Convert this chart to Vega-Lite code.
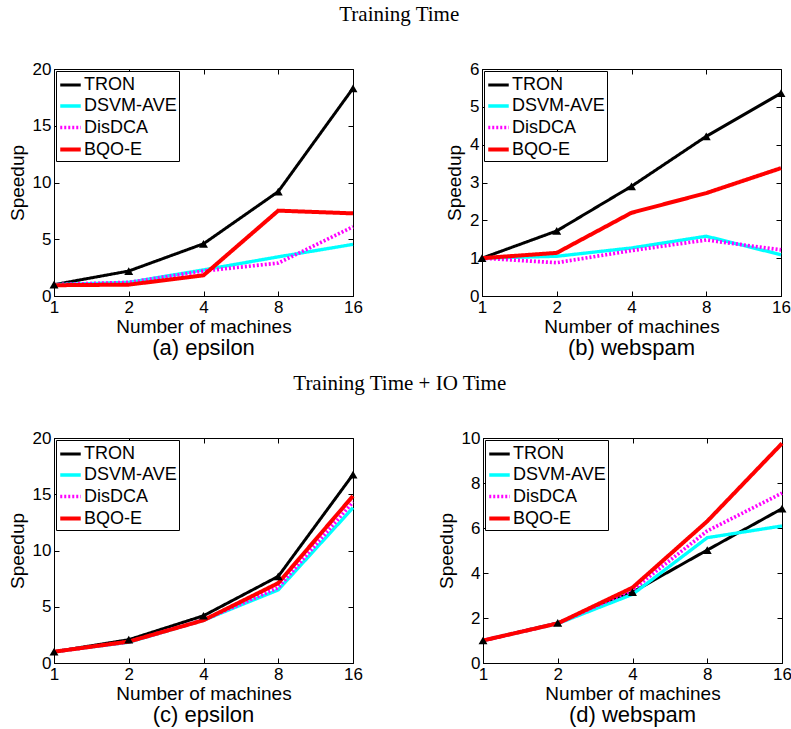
{
  "$schema": "https://vega.github.io/schema/vega-lite/v6.json",
  "padding": {"left": 7, "top": 3, "right": 2, "bottom": 2},
  "background": "white",
  "config": {
    "view": {"stroke": "black", "strokeWidth": 1},
    "axis": {"grid": false, "domainColor": "black", "tickColor": "black", "labelColor": "black", "titleColor": "black", "labelFont": "Liberation Sans", "labelFontSize": 17, "titleFont": "Liberation Sans", "titleFontSize": 19, "titleFontWeight": "normal", "tickSize": -5, "labelPadding": 8, "titlePadding": 2, "labelFlush": false, "labelOverlap": false},
    "axisLeft": {"titlePadding": 5},
    "axisRight": {"titlePadding": 5},
    "legend": {"orient": "top-left", "offset": 2, "strokeColor": "black", "fillColor": "white", "padding": 2, "symbolType": "stroke", "symbolSize": 420, "labelFont": "Liberation Sans", "labelFontSize": 18, "labelColor": "black", "rowPadding": -3, "labelOffset": 1, "labelLimit": 300, "cornerRadius": 0, "title": null},
    "title": {"font": "Liberation Serif", "fontSize": 21, "fontWeight": "normal", "color": "black"},
    "line": {"strokeCap": "butt", "strokeJoin": "miter"}
  },
  "data": {"values": [
    {"panel": "a", "method": "TRON", "machines": 1, "speedup": 1.0},
    {"panel": "a", "method": "TRON", "machines": 2, "speedup": 2.2},
    {"panel": "a", "method": "TRON", "machines": 4, "speedup": 4.6},
    {"panel": "a", "method": "TRON", "machines": 8, "speedup": 9.2},
    {"panel": "a", "method": "TRON", "machines": 16, "speedup": 18.3},
    {"panel": "a", "method": "DSVM-AVE", "machines": 1, "speedup": 1.0},
    {"panel": "a", "method": "DSVM-AVE", "machines": 2, "speedup": 1.2},
    {"panel": "a", "method": "DSVM-AVE", "machines": 4, "speedup": 2.3},
    {"panel": "a", "method": "DSVM-AVE", "machines": 8, "speedup": 3.45},
    {"panel": "a", "method": "DSVM-AVE", "machines": 16, "speedup": 4.55},
    {"panel": "a", "method": "DisDCA", "machines": 1, "speedup": 1.0},
    {"panel": "a", "method": "DisDCA", "machines": 2, "speedup": 1.2},
    {"panel": "a", "method": "DisDCA", "machines": 4, "speedup": 2.2},
    {"panel": "a", "method": "DisDCA", "machines": 8, "speedup": 2.9},
    {"panel": "a", "method": "DisDCA", "machines": 16, "speedup": 6.1},
    {"panel": "a", "method": "BQO-E", "machines": 1, "speedup": 0.95},
    {"panel": "a", "method": "BQO-E", "machines": 2, "speedup": 1.0},
    {"panel": "a", "method": "BQO-E", "machines": 4, "speedup": 1.82},
    {"panel": "a", "method": "BQO-E", "machines": 8, "speedup": 7.52},
    {"panel": "a", "method": "BQO-E", "machines": 16, "speedup": 7.28},
    {"panel": "b", "method": "TRON", "machines": 1, "speedup": 1.0},
    {"panel": "b", "method": "TRON", "machines": 2, "speedup": 1.72},
    {"panel": "b", "method": "TRON", "machines": 4, "speedup": 2.9},
    {"panel": "b", "method": "TRON", "machines": 8, "speedup": 4.22},
    {"panel": "b", "method": "TRON", "machines": 16, "speedup": 5.36},
    {"panel": "b", "method": "DSVM-AVE", "machines": 1, "speedup": 1.0},
    {"panel": "b", "method": "DSVM-AVE", "machines": 2, "speedup": 1.05},
    {"panel": "b", "method": "DSVM-AVE", "machines": 4, "speedup": 1.27},
    {"panel": "b", "method": "DSVM-AVE", "machines": 8, "speedup": 1.58},
    {"panel": "b", "method": "DSVM-AVE", "machines": 16, "speedup": 1.09},
    {"panel": "b", "method": "DisDCA", "machines": 1, "speedup": 1.0},
    {"panel": "b", "method": "DisDCA", "machines": 2, "speedup": 0.88},
    {"panel": "b", "method": "DisDCA", "machines": 4, "speedup": 1.2},
    {"panel": "b", "method": "DisDCA", "machines": 8, "speedup": 1.48},
    {"panel": "b", "method": "DisDCA", "machines": 16, "speedup": 1.22},
    {"panel": "b", "method": "BQO-E", "machines": 1, "speedup": 1.0},
    {"panel": "b", "method": "BQO-E", "machines": 2, "speedup": 1.14},
    {"panel": "b", "method": "BQO-E", "machines": 4, "speedup": 2.2},
    {"panel": "b", "method": "BQO-E", "machines": 8, "speedup": 2.72},
    {"panel": "b", "method": "BQO-E", "machines": 16, "speedup": 3.38},
    {"panel": "c", "method": "TRON", "machines": 1, "speedup": 1.0},
    {"panel": "c", "method": "TRON", "machines": 2, "speedup": 2.07},
    {"panel": "c", "method": "TRON", "machines": 4, "speedup": 4.2},
    {"panel": "c", "method": "TRON", "machines": 8, "speedup": 7.7},
    {"panel": "c", "method": "TRON", "machines": 16, "speedup": 16.75},
    {"panel": "c", "method": "DSVM-AVE", "machines": 1, "speedup": 1.0},
    {"panel": "c", "method": "DSVM-AVE", "machines": 2, "speedup": 1.85},
    {"panel": "c", "method": "DSVM-AVE", "machines": 4, "speedup": 3.8},
    {"panel": "c", "method": "DSVM-AVE", "machines": 8, "speedup": 6.5},
    {"panel": "c", "method": "DSVM-AVE", "machines": 16, "speedup": 13.8},
    {"panel": "c", "method": "DisDCA", "machines": 1, "speedup": 1.0},
    {"panel": "c", "method": "DisDCA", "machines": 2, "speedup": 1.88},
    {"panel": "c", "method": "DisDCA", "machines": 4, "speedup": 3.82},
    {"panel": "c", "method": "DisDCA", "machines": 8, "speedup": 6.7},
    {"panel": "c", "method": "DisDCA", "machines": 16, "speedup": 14.3},
    {"panel": "c", "method": "BQO-E", "machines": 1, "speedup": 1.0},
    {"panel": "c", "method": "BQO-E", "machines": 2, "speedup": 1.9},
    {"panel": "c", "method": "BQO-E", "machines": 4, "speedup": 3.8},
    {"panel": "c", "method": "BQO-E", "machines": 8, "speedup": 7.1},
    {"panel": "c", "method": "BQO-E", "machines": 16, "speedup": 14.85},
    {"panel": "d", "method": "TRON", "machines": 1, "speedup": 1.0},
    {"panel": "d", "method": "TRON", "machines": 2, "speedup": 1.78},
    {"panel": "d", "method": "TRON", "machines": 4, "speedup": 3.15},
    {"panel": "d", "method": "TRON", "machines": 8, "speedup": 5.02},
    {"panel": "d", "method": "TRON", "machines": 16, "speedup": 6.86},
    {"panel": "d", "method": "DSVM-AVE", "machines": 1, "speedup": 1.0},
    {"panel": "d", "method": "DSVM-AVE", "machines": 2, "speedup": 1.75},
    {"panel": "d", "method": "DSVM-AVE", "machines": 4, "speedup": 3.05},
    {"panel": "d", "method": "DSVM-AVE", "machines": 8, "speedup": 5.57},
    {"panel": "d", "method": "DSVM-AVE", "machines": 16, "speedup": 6.09},
    {"panel": "d", "method": "DisDCA", "machines": 1, "speedup": 1.0},
    {"panel": "d", "method": "DisDCA", "machines": 2, "speedup": 1.76},
    {"panel": "d", "method": "DisDCA", "machines": 4, "speedup": 3.25},
    {"panel": "d", "method": "DisDCA", "machines": 8, "speedup": 5.87},
    {"panel": "d", "method": "DisDCA", "machines": 16, "speedup": 7.55},
    {"panel": "d", "method": "BQO-E", "machines": 1, "speedup": 1.0},
    {"panel": "d", "method": "BQO-E", "machines": 2, "speedup": 1.76},
    {"panel": "d", "method": "BQO-E", "machines": 4, "speedup": 3.35},
    {"panel": "d", "method": "BQO-E", "machines": 8, "speedup": 6.3},
    {"panel": "d", "method": "BQO-E", "machines": 16, "speedup": 9.76}
  ]},
  "spacing": 12,
  "resolve": {"legend": {"color": "independent", "strokeDash": "independent", "strokeWidth": "independent"}},
  "vconcat": [
    {
      "title": {"text": "Training Time", "anchor": "middle", "offset": 35},
      "spacing": 82,
      "resolve": {"legend": {"color": "independent", "strokeDash": "independent", "strokeWidth": "independent"}},
      "hconcat": [
        {
          "width": 299, "height": 227,
          "title": {"text": "(a) epsilon", "orient": "bottom", "anchor": "middle", "frame": "group", "offset": 2, "font": "Liberation Sans", "fontSize": 22},
          "transform": [{"filter": "datum.panel == 'a'"}],
          "encoding": {
            "x": {"field": "machines", "type": "quantitative", "scale": {"type": "log", "base": 2, "domain": [1, 16], "nice": false}},
            "y": {"field": "speedup", "type": "quantitative", "scale": {"domain": [0, 20], "nice": false}}
          },
          "resolve": {"axis": {"x": "independent", "y": "independent"}},
          "layer": [
            {
              "mark": {"type": "line"},
              "encoding": {
                "x": {"field": "machines", "type": "quantitative", "axis": {"values": [1, 2, 4, 8, 16], "format": "d", "title": "Number of machines"}},
                "y": {"field": "speedup", "type": "quantitative", "axis": {"values": [0, 5, 10, 15, 20], "title": "Speedup"}},
                "color": {"field": "method", "type": "nominal", "sort": null, "scale": {"domain": ["TRON", "DSVM-AVE", "DisDCA", "BQO-E"], "range": ["#000000", "#00FFFF", "#FF00FF", "#FF0000"]}},
                "strokeDash": {"field": "method", "type": "nominal", "sort": null, "scale": {"domain": ["TRON", "DSVM-AVE", "DisDCA", "BQO-E"], "range": [[1, 0], [1, 0], [2, 2], [1, 0]]}},
                "strokeWidth": {"field": "method", "type": "nominal", "sort": null, "scale": {"domain": ["TRON", "DSVM-AVE", "DisDCA", "BQO-E"], "range": [3, 4, 2, 4]}}
              }
            },
            {
              "transform": [{"filter": "datum.method == 'TRON'"}],
              "mark": {"type": "point", "shape": "triangle-up", "filled": true, "color": "black", "opacity": 1, "size": 80},
              "encoding": {
                "x": {"field": "machines", "type": "quantitative", "axis": {"orient": "top", "values": [1, 2, 4, 8, 16], "labels": false, "title": null, "domain": false}},
                "y": {"field": "speedup", "type": "quantitative", "axis": {"orient": "right", "values": [0, 5, 10, 15, 20], "labels": false, "title": null, "domain": false}}
              }
            }
          ]
        },
        {
          "width": 299, "height": 227,
          "title": {"text": "(b) webspam", "orient": "bottom", "anchor": "middle", "frame": "group", "offset": 2, "font": "Liberation Sans", "fontSize": 22},
          "transform": [{"filter": "datum.panel == 'b'"}],
          "encoding": {
            "x": {"field": "machines", "type": "quantitative", "scale": {"type": "log", "base": 2, "domain": [1, 16], "nice": false}},
            "y": {"field": "speedup", "type": "quantitative", "scale": {"domain": [0, 6], "nice": false}}
          },
          "resolve": {"axis": {"x": "independent", "y": "independent"}},
          "layer": [
            {
              "mark": {"type": "line"},
              "encoding": {
                "x": {"field": "machines", "type": "quantitative", "axis": {"values": [1, 2, 4, 8, 16], "format": "d", "title": "Number of machines"}},
                "y": {"field": "speedup", "type": "quantitative", "axis": {"values": [0, 1, 2, 3, 4, 5, 6], "title": "Speedup"}},
                "color": {"field": "method", "type": "nominal", "sort": null, "scale": {"domain": ["TRON", "DSVM-AVE", "DisDCA", "BQO-E"], "range": ["#000000", "#00FFFF", "#FF00FF", "#FF0000"]}},
                "strokeDash": {"field": "method", "type": "nominal", "sort": null, "scale": {"domain": ["TRON", "DSVM-AVE", "DisDCA", "BQO-E"], "range": [[1, 0], [1, 0], [2, 2], [1, 0]]}},
                "strokeWidth": {"field": "method", "type": "nominal", "sort": null, "scale": {"domain": ["TRON", "DSVM-AVE", "DisDCA", "BQO-E"], "range": [3, 4, 2, 4]}}
              }
            },
            {
              "transform": [{"filter": "datum.method == 'TRON'"}],
              "mark": {"type": "point", "shape": "triangle-up", "filled": true, "color": "black", "opacity": 1, "size": 80},
              "encoding": {
                "x": {"field": "machines", "type": "quantitative", "axis": {"orient": "top", "values": [1, 2, 4, 8, 16], "labels": false, "title": null, "domain": false}},
                "y": {"field": "speedup", "type": "quantitative", "axis": {"orient": "right", "values": [0, 1, 2, 3, 4, 5, 6], "labels": false, "title": null, "domain": false}}
              }
            }
          ]
        }
      ]
    },
    {
      "title": {"text": "Training Time + IO Time", "anchor": "middle", "offset": 35},
      "spacing": 73,
      "resolve": {"legend": {"color": "independent", "strokeDash": "independent", "strokeWidth": "independent"}},
      "hconcat": [
        {
          "width": 299, "height": 225,
          "title": {"text": "(c) epsilon", "orient": "bottom", "anchor": "middle", "frame": "group", "offset": 2, "font": "Liberation Sans", "fontSize": 22},
          "transform": [{"filter": "datum.panel == 'c'"}],
          "encoding": {
            "x": {"field": "machines", "type": "quantitative", "scale": {"type": "log", "base": 2, "domain": [1, 16], "nice": false}},
            "y": {"field": "speedup", "type": "quantitative", "scale": {"domain": [0, 20], "nice": false}}
          },
          "resolve": {"axis": {"x": "independent", "y": "independent"}},
          "layer": [
            {
              "mark": {"type": "line"},
              "encoding": {
                "x": {"field": "machines", "type": "quantitative", "axis": {"values": [1, 2, 4, 8, 16], "format": "d", "title": "Number of machines"}},
                "y": {"field": "speedup", "type": "quantitative", "axis": {"values": [0, 5, 10, 15, 20], "title": "Speedup"}},
                "color": {"field": "method", "type": "nominal", "sort": null, "scale": {"domain": ["TRON", "DSVM-AVE", "DisDCA", "BQO-E"], "range": ["#000000", "#00FFFF", "#FF00FF", "#FF0000"]}},
                "strokeDash": {"field": "method", "type": "nominal", "sort": null, "scale": {"domain": ["TRON", "DSVM-AVE", "DisDCA", "BQO-E"], "range": [[1, 0], [1, 0], [2, 2], [1, 0]]}},
                "strokeWidth": {"field": "method", "type": "nominal", "sort": null, "scale": {"domain": ["TRON", "DSVM-AVE", "DisDCA", "BQO-E"], "range": [3, 4, 2, 4]}}
              }
            },
            {
              "transform": [{"filter": "datum.method == 'TRON'"}],
              "mark": {"type": "point", "shape": "triangle-up", "filled": true, "color": "black", "opacity": 1, "size": 80},
              "encoding": {
                "x": {"field": "machines", "type": "quantitative", "axis": {"orient": "top", "values": [1, 2, 4, 8, 16], "labels": false, "title": null, "domain": false}},
                "y": {"field": "speedup", "type": "quantitative", "axis": {"orient": "right", "values": [0, 5, 10, 15, 20], "labels": false, "title": null, "domain": false}}
              }
            }
          ]
        },
        {
          "width": 299, "height": 225,
          "title": {"text": "(d) webspam", "orient": "bottom", "anchor": "middle", "frame": "group", "offset": 2, "font": "Liberation Sans", "fontSize": 22},
          "transform": [{"filter": "datum.panel == 'd'"}],
          "encoding": {
            "x": {"field": "machines", "type": "quantitative", "scale": {"type": "log", "base": 2, "domain": [1, 16], "nice": false}},
            "y": {"field": "speedup", "type": "quantitative", "scale": {"domain": [0, 10], "nice": false}}
          },
          "resolve": {"axis": {"x": "independent", "y": "independent"}},
          "layer": [
            {
              "mark": {"type": "line"},
              "encoding": {
                "x": {"field": "machines", "type": "quantitative", "axis": {"values": [1, 2, 4, 8, 16], "format": "d", "title": "Number of machines"}},
                "y": {"field": "speedup", "type": "quantitative", "axis": {"values": [0, 2, 4, 6, 8, 10], "title": "Speedup"}},
                "color": {"field": "method", "type": "nominal", "sort": null, "scale": {"domain": ["TRON", "DSVM-AVE", "DisDCA", "BQO-E"], "range": ["#000000", "#00FFFF", "#FF00FF", "#FF0000"]}},
                "strokeDash": {"field": "method", "type": "nominal", "sort": null, "scale": {"domain": ["TRON", "DSVM-AVE", "DisDCA", "BQO-E"], "range": [[1, 0], [1, 0], [2, 2], [1, 0]]}},
                "strokeWidth": {"field": "method", "type": "nominal", "sort": null, "scale": {"domain": ["TRON", "DSVM-AVE", "DisDCA", "BQO-E"], "range": [3, 4, 2, 4]}}
              }
            },
            {
              "transform": [{"filter": "datum.method == 'TRON'"}],
              "mark": {"type": "point", "shape": "triangle-up", "filled": true, "color": "black", "opacity": 1, "size": 80},
              "encoding": {
                "x": {"field": "machines", "type": "quantitative", "axis": {"orient": "top", "values": [1, 2, 4, 8, 16], "labels": false, "title": null, "domain": false}},
                "y": {"field": "speedup", "type": "quantitative", "axis": {"orient": "right", "values": [0, 2, 4, 6, 8, 10], "labels": false, "title": null, "domain": false}}
              }
            }
          ]
        }
      ]
    }
  ]
}
